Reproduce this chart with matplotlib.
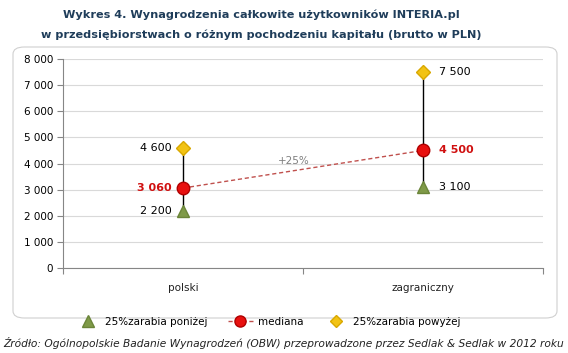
import matplotlib
matplotlib.use("Agg")
import matplotlib.pyplot as plt
from matplotlib.lines import Line2D
from matplotlib.patches import FancyBboxPatch

# dane
kategorie = ["polski", "zagraniczny"]
dolny_kwartyl = [2200, 3100]
mediana = [3060, 4500]
gorny_kwartyl = [4600, 7500]
y_ticks = [0, 1000, 2000, 3000, 4000, 5000, 6000, 7000, 8000]
zmiana = "+25%"


def fmt(v):
    return f"{v:,}".replace(",", " ")


W, H = 568, 353
fig = plt.figure(figsize=(W / 100, H / 100), dpi=100)

# ramka wykresu
ramka = FancyBboxPatch((13 / W, 1 - 318 / H), 544 / W, 271 / H,
                       boxstyle="round,pad=0,rounding_size=0.02",
                       transform=fig.transFigure, facecolor="white",
                       edgecolor="#D0D0D0", linewidth=0.8, zorder=-1)
fig.patches.append(ramka)

fig.text(261 / W, 1 - 15 / H, "Wykres 4. Wynagrodzenia całkowite użytkowników INTERIA.pl",
         ha="center", va="center", fontsize=8.1, fontweight="bold", color="#1F3D5A")
fig.text(261 / W, 1 - 35 / H, "w przedsiębiorstwach o różnym pochodzeniu kapitału (brutto w PLN)",
         ha="center", va="center", fontsize=8.1, fontweight="bold", color="#1F3D5A")

ax = fig.add_axes([63 / W, (H - 268) / H, 480 / W, 209 / H])
ax.patch.set_alpha(0)
ax.set_xlim(0, 2)
ax.set_ylim(0, 8000)
x = [0.5, 1.5]

ax.set_yticks(y_ticks)
ax.set_yticklabels([fmt(v) for v in y_ticks], fontsize=7.5)
ax.yaxis.grid(True, color="#D9D9D9", linewidth=0.8)
ax.set_axisbelow(True)
ax.set_xticks([0, 1, 2])
ax.set_xticklabels([])
ax.tick_params(axis="x", length=4, color="#868686", direction="out")
ax.tick_params(axis="y", length=4, color="#868686", direction="out", pad=3)
for s in ["top", "right"]:
    ax.spines[s].set_visible(False)
for s in ["left", "bottom"]:
    ax.spines[s].set_color("#868686")
    ax.spines[s].set_linewidth(0.8)

for xi, k in zip(x, kategorie):
    ax.text(xi, -750, k, ha="center", va="center", fontsize=7.5, color="#222222")

# pionowe linie min-max
for xi, lo, hi in zip(x, dolny_kwartyl, gorny_kwartyl):
    ax.plot([xi, xi], [lo, hi], color="black", linewidth=1, zorder=2)

ax.plot(x, mediana, color="#C0504D", linestyle=(0, (3, 2)), linewidth=1, zorder=2)
ax.plot(x, dolny_kwartyl, linestyle="none", marker="^", markersize=9,
        markerfacecolor="#7F9A48", markeredgecolor="#6B8539", zorder=3)
ax.plot(x, gorny_kwartyl, linestyle="none", marker="D", markersize=7,
        markerfacecolor="#F2C314", markeredgecolor="#D9A800", zorder=3)
ax.plot(x, mediana, linestyle="none", marker="o", markersize=9,
        markerfacecolor="#E8100F", markeredgecolor="#B00000", zorder=4)

# etykiety wartosci
for i, xi in enumerate(x):
    off = -11 if i == 0 else 16
    ha = "right" if i == 0 else "left"
    for v, col, bold in [(gorny_kwartyl[i], "black", "normal"),
                         (dolny_kwartyl[i], "black", "normal"),
                         (mediana[i], "#D01010", "bold")]:
        ax.annotate(fmt(v), (xi, v), xytext=(off, 0), textcoords="offset pixels",
                    ha=ha, va="center", fontsize=8, color=col, fontweight=bold)

ax.text(0.96, 4100, zmiana, ha="center", va="center", fontsize=7.5, color="#7F7F7F")

uchwyty = [
    Line2D([], [], linestyle="none", marker="^", markersize=8,
           markerfacecolor="#7F9A48", markeredgecolor="#6B8539"),
    Line2D([], [], color="#C0504D", linestyle=(0, (3, 2)), linewidth=1, marker="o",
           markersize=8, markerfacecolor="#E8100F", markeredgecolor="#B00000"),
    Line2D([], [], linestyle="none", marker="D", markersize=6,
           markerfacecolor="#F2C314", markeredgecolor="#D9A800"),
]
fig.legend(uchwyty, ["25%zarabia poniżej", "mediana", "25%zarabia powyżej"],
           loc="center", bbox_to_anchor=(268 / W, 1 - 322 / H), ncol=3,
           frameon=False, fontsize=7.5, handlelength=2.4, columnspacing=1.9,
           handletextpad=0.5)

fig.text(0.5, 1 - 343 / H,
         "Źródło: Ogólnopolskie Badanie Wynagrodzeń (OBW) przeprowadzone przez Sedlak & Sedlak w 2012 roku",
         ha="center", va="center", fontsize=7.7, style="italic", color="#222222")

fig.savefig("out.png", dpi=100)
